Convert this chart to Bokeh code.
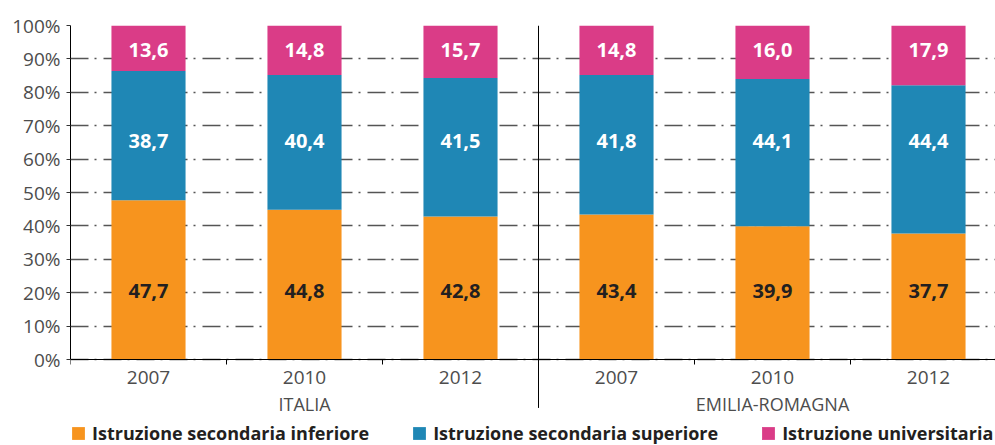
from bokeh.plotting import figure
from bokeh.models import (ColumnDataSource, Range1d, FixedTicker, Legend, LegendItem,
                          LinearAxis)
from bokeh.core.properties import value
from bokeh.embed import file_html
from bokeh.resources import INLINE

# ---- data ----
years = ["2007", "2010", "2012", "2007", "2010", "2012"]
groups = ["ITALIA", "EMILIA-ROMAGNA"]
inferiore = [47.7, 44.8, 42.8, 43.4, 39.9, 37.7]
superiore = [38.7, 40.4, 41.5, 41.8, 44.1, 44.4]
universitaria = [13.6, 14.8, 15.7, 14.8, 16.0, 17.9]
series_names = ["Istruzione secondaria inferiore", "Istruzione secondaria superiore",
                "Istruzione universitaria"]
y_ticks = [0, 10, 20, 30, 40, 50, 60, 70, 80, 90, 100]

# ---- style ----
COLORS = ["#F7941E", "#1F87B5", "#DA3C87"]
LABEL_COLORS = ["#231F20", "#FFFFFF", "#FFFFFF"]
LABEL_LEVELS = [20.6, 65.3, 92.6]
FONT = "Open Sans"
PX_PER_UNIT = 3.34          # vertical pixels per percentage point
FRAME_BOTTOM_EXTRA = 86     # px of frame below the 0% line (for labels/legend)
CAT_PX = 156                # px per category

n = len(years)
x = [i + 0.5 for i in range(n)]
src = ColumnDataSource(dict(x=x, inf=inferiore, sup=superiore, uni=universitaria))

p = figure(width=995, height=445, output_backend="svg", toolbar_location=None,
           x_range=Range1d(0, 925 / CAT_PX),
           y_range=Range1d(-FRAME_BOTTOM_EXTRA / PX_PER_UNIT, 100),
           x_axis_location=None,
           min_border_left=70, min_border_top=25, min_border_bottom=0, min_border_right=0)
p.outline_line_color = None
p.background_fill_color = "white"

rends = p.vbar_stack(["inf", "sup", "uni"], x="x", width=0.475, color=COLORS,
                     line_color=None, source=src)

# bar value labels
for vals, col, lvl in zip([inferiore, superiore, universitaria], LABEL_COLORS, LABEL_LEVELS):
    s = ColumnDataSource(dict(x=x, y=[lvl] * n,
                              t=[f"{v:.1f}".replace(".", ",") for v in vals]))
    p.text(x="x", y="y", text="t", source=s, text_align="center", text_baseline="middle",
           text_font=value(FONT), text_font_style="bold", text_font_size="20px",
           text_color=col)

# y axis
p.yaxis.bounds = (0, 100)
p.yaxis.ticker = FixedTicker(ticks=y_ticks)
p.yaxis.major_label_overrides = {t: f"{t}%" for t in y_ticks}
p.yaxis.major_tick_out = 4
p.yaxis.major_tick_in = 0
p.yaxis.minor_tick_line_color = None
p.yaxis.axis_line_color = "black"
p.yaxis.major_tick_line_color = "#333333"
p.yaxis.major_label_text_font = FONT
p.yaxis.major_label_text_font_size = "19px"
p.yaxis.major_label_text_color = "#4D4D4D"
p.yaxis.major_label_standoff = 6

# x axis drawn at 0%
xax = LinearAxis(fixed_location=0,
                 ticker=FixedTicker(ticks=x, minor_ticks=list(range(n + 1))))
xax.major_label_overrides = {xi: yr for xi, yr in zip(x, years)}
xax.major_tick_line_color = None
xax.major_tick_out = 0
xax.minor_tick_out = 5
xax.minor_tick_in = 0
xax.minor_tick_line_color = "black"
xax.axis_line_color = "black"
xax.major_label_text_font = FONT
xax.major_label_text_font_size = "19px"
xax.major_label_text_color = "#4D4D4D"
xax.major_label_standoff = 6
p.add_layout(xax, "below")

# grid
p.xgrid.grid_line_color = None
p.ygrid.ticker = FixedTicker(ticks=y_ticks)
p.ygrid.grid_line_color = "#555555"
p.ygrid.grid_line_width = 1.4
p.ygrid.grid_line_dash = "18 6 2 7"

# group divider and group labels
p.segment(x0=[3], y0=[100], x1=[3], y1=[-14.5], line_color="black", line_width=1)
p.text(x=[1.5, 4.5], y=[-13.2, -13.2], text=groups, text_align="center",
       text_baseline="middle", text_font=value(FONT), text_font_size="18px",
       text_color="#4D4D4D")

# legend
legend = Legend(items=[LegendItem(label=nm, renderers=[r]) for nm, r in zip(series_names, rends)],
                orientation="horizontal", location=(0, 0), padding=0, margin=0,
                spacing=42, glyph_width=16, glyph_height=16, label_height=16,
                label_standoff=6, label_text_font=FONT, label_text_font_style="bold",
                label_text_font_size="18px", label_text_color="#231F20",
                border_line_color=None, background_fill_alpha=0)
p.add_layout(legend, "center")

open("out.html", "w").write(file_html(p, INLINE))
